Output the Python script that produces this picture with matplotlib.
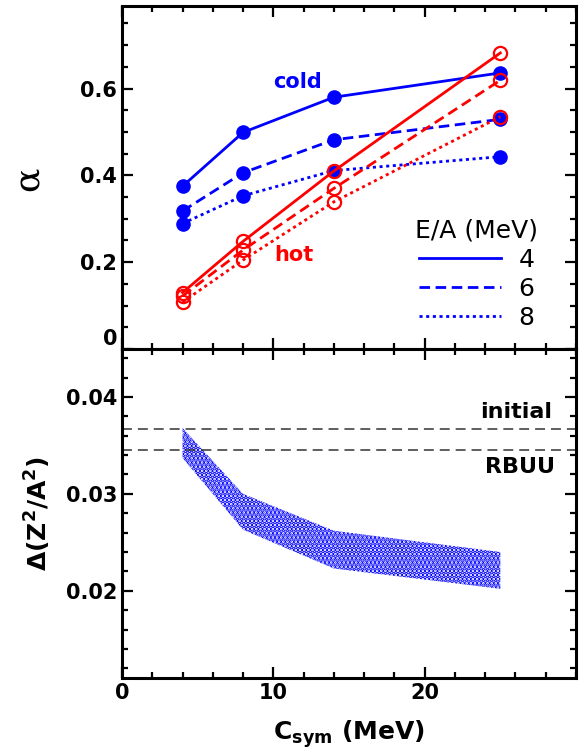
import matplotlib
matplotlib.use('Agg')

import matplotlib.pyplot as plt
from matplotlib.lines import Line2D
from matplotlib.ticker import MultipleLocator, FixedLocator, FixedFormatter

plt.rcParams['font.family'] = ['DejaVu Sans']
plt.rcParams['font.weight'] = 'bold'
plt.rcParams['mathtext.fontset'] = 'dejavusans'
plt.rcParams['hatch.linewidth'] = 2.5

# ---- data ----
csym = [4, 8, 14, 25]

cold_4 = [0.375, 0.499, 0.580, 0.636]
cold_6 = [0.318, 0.406, 0.482, 0.529]
cold_8 = [0.289, 0.353, 0.411, 0.443]

hot_4 = [0.130, 0.248, 0.410, 0.682]
hot_6 = [0.122, 0.228, 0.370, 0.619]
hot_8 = [0.108, 0.205, 0.339, 0.535]

energy_labels = ['4', '6', '8']

band_x = [4, 8, 14, 25]
band_upper = [0.0368, 0.0300, 0.0262, 0.0240]
band_lower = [0.0337, 0.0263, 0.0223, 0.0202]

initial_level = 0.03665
rbuu_level = 0.03448

# ---- figure ----
fig = plt.figure(figsize=(5.79, 7.55), dpi=100)
left, width = 0.2107, 0.7841
ax1 = fig.add_axes([left, 0.5377, width, 0.4543])
ax2 = fig.add_axes([left, 0.1020, width, 0.4351])

styles = ['-', (0, (3.8, 2.0)), (0, (1.1, 1.3))]

# top panel: cold (blue, filled) then hot (red, open)
for vals, ls in zip([cold_4, cold_6, cold_8], styles):
    ax1.plot(csym, vals, color='blue', linestyle=ls, linewidth=2,
             marker='o', markersize=9.5, markerfacecolor='blue',
             markeredgecolor='blue', zorder=3)
for vals, ls in zip([hot_4, hot_6, hot_8], styles):
    ax1.plot(csym, vals, color='red', linestyle=ls, linewidth=2,
             marker='o', markersize=9.5, markerfacecolor='none',
             markeredgecolor='red', markeredgewidth=1.6, zorder=4)

ax1.text(10.0, 0.615, 'cold', color='blue', fontsize=15, fontweight='bold',
         ha='left', va='center')
ax1.text(10.05, 0.216, 'hot', color='red', fontsize=15, fontweight='bold',
         ha='left', va='center')

handles = [Line2D([], [], color='blue', linestyle=ls, linewidth=2) for ls in styles]
leg = ax1.legend(handles, energy_labels, title='E/A (MeV)', loc='upper center',
                 bbox_to_anchor=(0.781, 0.38), frameon=False,
                 prop={'size': 18, 'weight': 'normal'},
                 title_fontproperties={'size': 18, 'weight': 'normal'},
                 handlelength=3.3, handletextpad=0.7, labelspacing=0.2,
                 borderpad=0, borderaxespad=0)

ax1.set_xlim(0, 30)
ax1.set_ylim(0, 0.79)
ax1.yaxis.set_major_locator(FixedLocator([0, 0.2, 0.4, 0.6]))
ax1.yaxis.set_major_formatter(FixedFormatter(['0', '0.2', '0.4', '0.6']))
ax1.yaxis.set_minor_locator(MultipleLocator(0.05))
ax1.set_ylabel('α', fontsize=26, fontweight='normal', family='DejaVu Serif')
ax1.yaxis.set_label_coords(-0.17, 0.496)
ax1.tick_params(labelbottom=False)

# bottom panel
ax2.fill_between(band_x, band_lower, band_upper, facecolor='none',
                 edgecolor='blue', hatch='....', linewidth=0)
ax2.axhline(initial_level, color='#333333', linewidth=1.1,
            linestyle=(0, (6.5, 3.9)))
ax2.axhline(rbuu_level, color='#333333', linewidth=1.1,
            linestyle=(0, (6.5, 3.9)))
ax2.text(0.947, 0.81, 'initial', transform=ax2.transAxes, fontsize=16,
         fontweight='bold', ha='right', va='center')
ax2.text(0.953, 0.643, 'RBUU', transform=ax2.transAxes, fontsize=16,
         fontweight='bold', ha='right', va='center')

ax2.set_xlim(0, 30)
ax2.set_ylim(0.011, 0.0449)
ax2.yaxis.set_major_locator(FixedLocator([0.02, 0.03, 0.04]))
ax2.yaxis.set_major_formatter(FixedFormatter(['0.02', '0.03', '0.04']))
ax2.yaxis.set_minor_locator(MultipleLocator(0.002))
ax2.set_ylabel(r'$\Delta\mathbf{(Z^{2}/A^{2})}$', fontsize=18)
ax2.yaxis.set_label_coords(-0.152, 0.5)
ax2.set_xlabel(r'$\mathbf{C_{sym}}$ (MeV)', fontsize=18, fontweight='bold',
               labelpad=11)

for ax in (ax1, ax2):
    ax.xaxis.set_major_locator(FixedLocator([0, 10, 20]))
    ax.xaxis.set_minor_locator(MultipleLocator(2))
    ax.tick_params(which='both', direction='in', top=True, right=True,
                   width=1.6, labelsize=15)
    ax.tick_params(which='major', length=8)
    ax.tick_params(which='minor', length=4.5)
    for s in ax.spines.values():
        s.set_linewidth(2.2)

ax1.get_yticklabels()[0].set_verticalalignment('bottom')

plt.savefig('out.png', dpi=100, facecolor='white')
plt.close('all')
